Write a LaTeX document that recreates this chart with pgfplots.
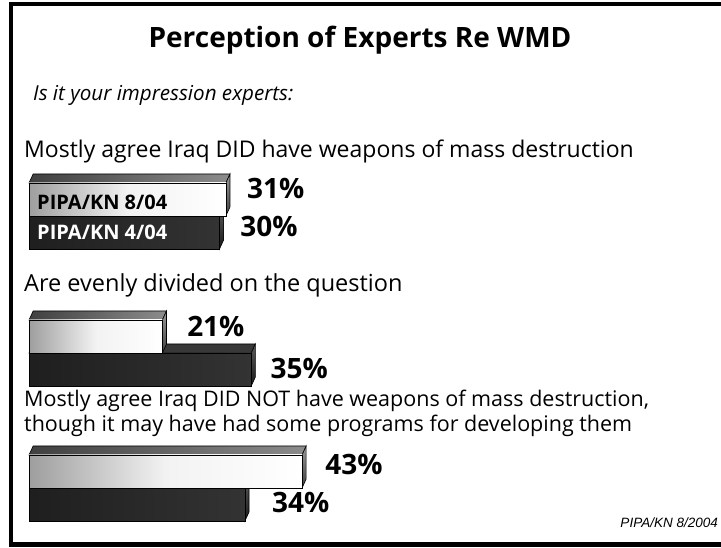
\documentclass[border=0pt]{standalone}
\usepackage{pgfplots}
\pgfplotsset{compat=1.18}
\usepackage{fontspec}
\setmainfont{Open Sans}
\newfontfamily\footfont{Liberation Sans}
\begin{document}
\begin{tikzpicture}[x=1pt,y=1pt]
\useasboundingbox (0,0) rectangle (721,548);
\clip (0,0) rectangle (721,548);
\fill[white] (0,0) rectangle (721,548);
\draw[line width=4.5pt] (11,3.5) rectangle (740,544);
% texts
\node[anchor=base, inner sep=0, font=\fontsize{28}{30}\selectfont\bfseries] at (360,500) {Perception of Experts Re WMD};
\node[anchor=base west, inner sep=0, font=\fontsize{20.6}{25}\selectfont\itshape] at (33,447) {Is it your impression experts:};
\node[anchor=base west, inner sep=0, font=\fontsize{23}{25}\selectfont] at (24,390) {Mostly agree Iraq DID have weapons of mass destruction};
\node[anchor=base west, inner sep=0, font=\fontsize{23.5}{25}\selectfont] at (24,256) {Are evenly divided on the question};
\node[anchor=base west, inner sep=0, font=\fontsize{21.5}{25}\selectfont] at (24,141.3) {Mostly agree Iraq DID NOT have weapons of mass destruction,};
\node[anchor=base west, inner sep=0, font=\fontsize{21.5}{25}\selectfont] at (24,116.3) {though it may have had some programs for developing them};
\node[anchor=base east, inner sep=0, font=\footfont\fontsize{13.5}{16}\selectfont\itshape] at (718,20) {PIPA/KN 8/2004};
\begin{axis}[
  at={(29pt,0pt)}, anchor=origin,
  x=6.35pt, y=1pt,
  xmin=0, xmax=100, ymin=0, ymax=548,
  hide axis, clip=false,
  /pgf/number format/assume math mode=true,
  every axis plot/.append style={line width=0.6pt},
  nodes near coords={\pgfmathprintnumber{\pgfplotspointmeta}\%},
  point meta=x,
  every node near coord/.style={anchor=west, inner sep=0pt, text=black, font=\fontsize{28}{32}\selectfont\bfseries},
]
% ---------- Group 1 ----------
\addplot[draw=black, top color=black!65, bottom color=black!90, nodes near coords={}] coordinates {(30,332) (30.65,341) (30.65,308) (30,299)} -- cycle;
\addplot[xbar, bar shift=0pt, bar width=33pt, draw=black, left color=black!88, right color=black!80,
  every node near coord/.append style={xshift=20.5pt, yshift=6pt}] coordinates {(30,315.5)};
\addplot[draw=black, left color=black!75, right color=black!45, nodes near coords={}] coordinates {(0,365) (0.65,374) (31.65,374) (31,365)} -- cycle;
\addplot[draw=black, top color=black!40, bottom color=black!75, nodes near coords={}] coordinates {(31,365) (31.65,374) (31.65,341) (31,332)} -- cycle;
\addplot[xbar, bar shift=0pt, bar width=33pt, draw=black, left color=black!38, right color=white, middle color=black!5,
  every node near coord/.append style={xshift=21pt, yshift=10.5pt}] coordinates {(31,348.5)};
% ---------- Group 2 ----------
\addplot[draw=black, fill=black!78, nodes near coords={}] coordinates {(0,195) (0.65,204) (35.65,204) (35,195)} -- cycle;
\addplot[draw=black, top color=black!65, bottom color=black!90, nodes near coords={}] coordinates {(35,195) (35.65,204) (35.65,171) (35,162)} -- cycle;
\addplot[xbar, bar shift=0pt, bar width=33pt, draw=black, left color=black!88, right color=black!80,
  every node near coord/.append style={xshift=19pt, yshift=0.5pt}] coordinates {(35,178.5)};
\addplot[draw=black, left color=black!75, right color=black!45, nodes near coords={}] coordinates {(0,228) (0.65,237) (21.65,237) (21,228)} -- cycle;
\addplot[draw=black, top color=black!40, bottom color=black!75, nodes near coords={}] coordinates {(21,228) (21.65,237) (21.65,204) (21,195)} -- cycle;
\addplot[xbar, bar shift=0pt, bar width=33pt, draw=black, left color=black!38, right color=white, middle color=black!5,
  every node near coord/.append style={xshift=24.6pt, yshift=10.5pt}] coordinates {(21,211.5)};
% ---------- Group 3 ----------
\addplot[draw=black, top color=black!65, bottom color=black!90, nodes near coords={}] coordinates {(34,60) (34.65,69) (34.65,36) (34,27)} -- cycle;
\addplot[xbar, bar shift=0pt, bar width=33pt, draw=black, left color=black!88, right color=black!80,
  every node near coord/.append style={xshift=27pt, yshift=2pt}] coordinates {(34,43.5)};
\addplot[draw=black, left color=black!75, right color=black!45, nodes near coords={}] coordinates {(0,93) (0.65,102) (43.65,102) (43,93)} -- cycle;
\addplot[draw=black, top color=black!40, bottom color=black!75, nodes near coords={}] coordinates {(43,93) (43.65,102) (43.65,69) (43,60)} -- cycle;
\addplot[xbar, bar shift=0pt, bar width=33pt, draw=black, left color=black!38, right color=white, middle color=black!5,
  every node near coord/.append style={xshift=23pt, yshift=6.5pt}] coordinates {(43,76.5)};
\end{axis}
\node[anchor=base west, inner sep=0, font=\fontsize{20}{22}\selectfont\bfseries] at (37,338) {PIPA/KN 8/04};
\node[anchor=base west, inner sep=0, text=white, font=\fontsize{20}{22}\selectfont\bfseries] at (37,308) {PIPA/KN 4/04};
\end{tikzpicture}
\end{document}
